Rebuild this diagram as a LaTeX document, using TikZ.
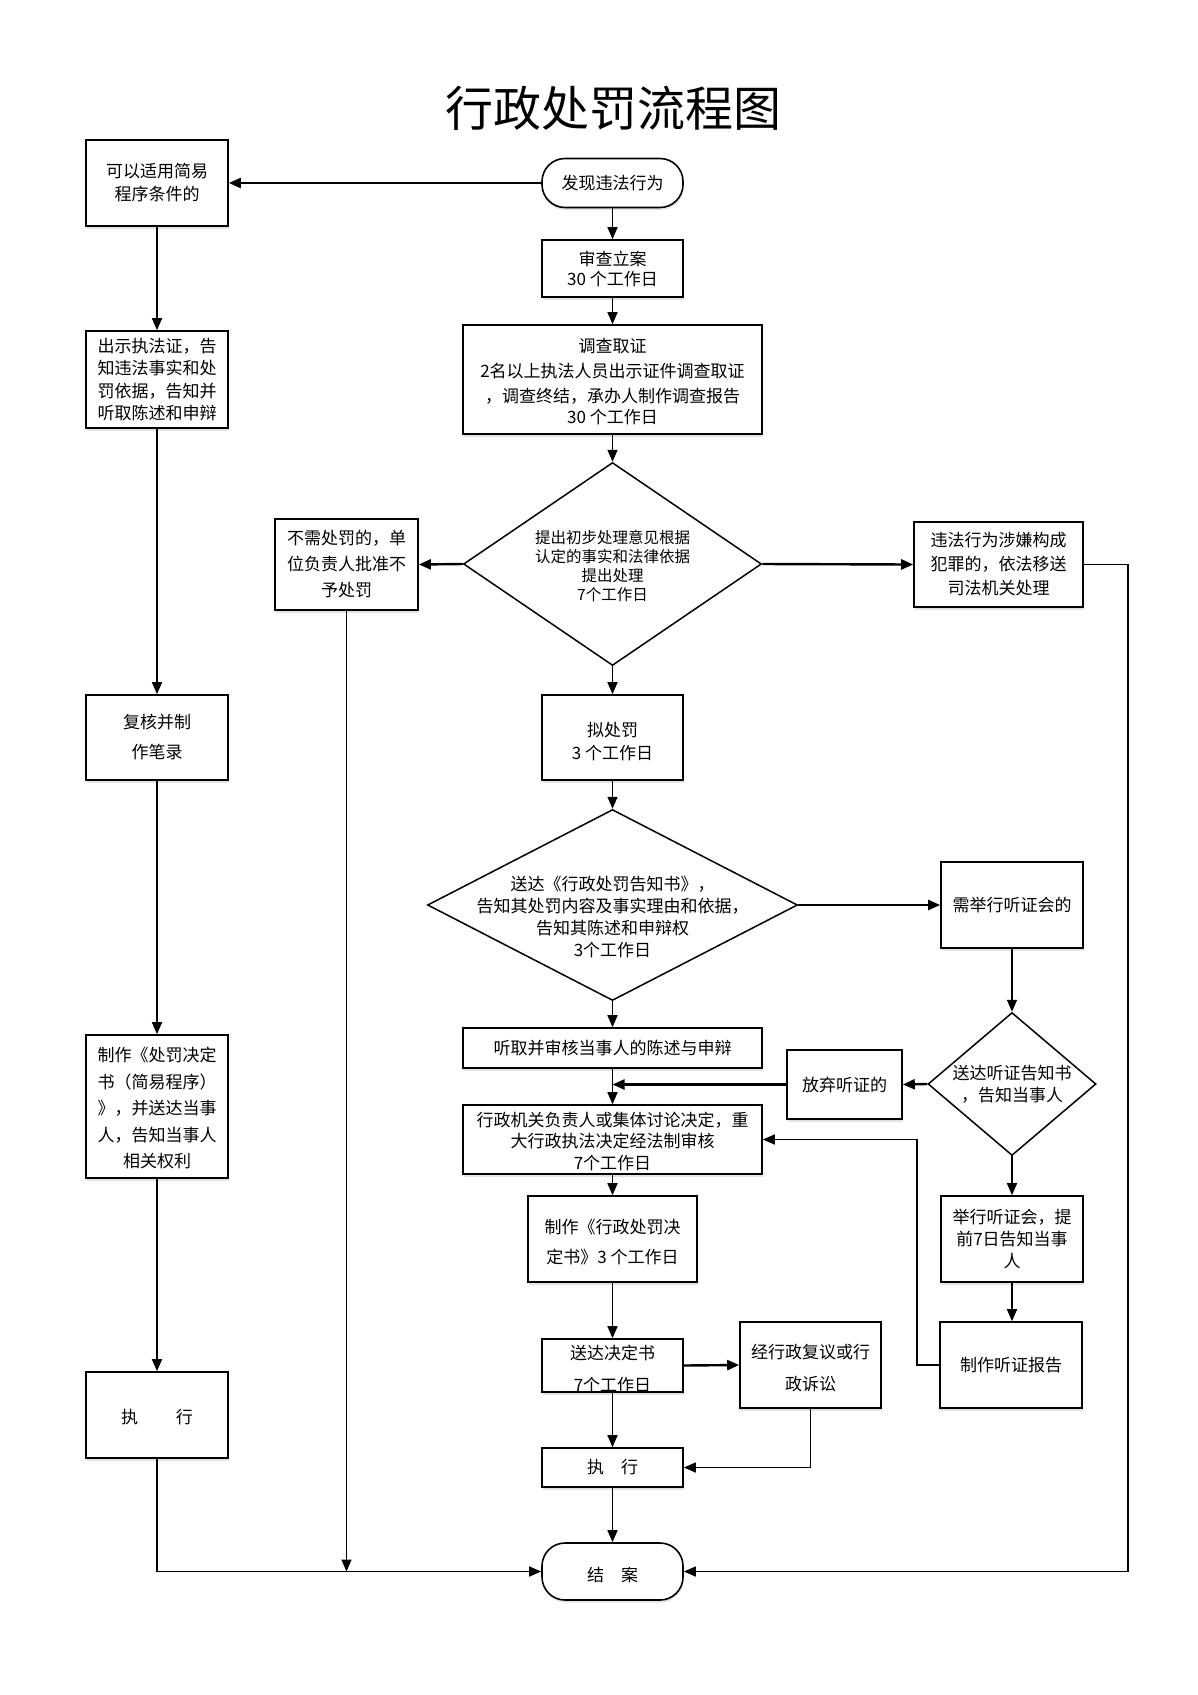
\documentclass[tikz,border=0pt]{standalone}
\usepackage{fontspec}
\newfontfamily\cjk{Noto Sans CJK SC}
\usetikzlibrary{arrows.meta,shapes.geometric,shadows}
\tikzset{
  txt/.style={font=\cjk\fontsize{17}{#1}\selectfont, align=center, inner sep=0pt},
  txt/.default=23,
  box/.style={draw, line width=1.6pt, fill=white, inner sep=0pt, align=center,
    drop shadow={shadow xshift=0.6pt, shadow yshift=-2.5pt, opacity=0.22, fill=gray}},
  term/.style={box, rounded corners=23pt},
  dia/.style={draw, diamond, line width=1.5pt, fill=white, inner sep=0pt, aspect=1},
  conn/.style={line width=1.5pt, -{Triangle[length=12pt,width=10pt]}},
  thickc/.style={line width=2.4pt},
}
\begin{document}
\begin{tikzpicture}[x=1pt,y=-1pt]
\useasboundingbox (0,0) rectangle (1198,1695);
\fill[white] (0,0) rectangle (1198,1695);

% title
\node[font=\cjk\fontsize{48}{56}\selectfont, inner sep=0pt] (title) at (613,108) {行政处罚流程图};

% left column
\node[box, minimum width=142pt, minimum height=86pt] (L1) at (157,183) {};
\node[txt] (L1t) at (L1.center) {可以适用简易\\程序条件的};
\node[box, minimum width=142pt, minimum height=97pt] (L2) at (157,379.5) {};
\node[txt=22.5] (L2t) at (L2.center) {出示执法证，告\\知违法事实和处\\罚依据，告知并\\听取陈述和申辩};
\node[box, minimum width=142pt, minimum height=85pt] (L3) at (157,737.5) {};
\node[txt=30] (L3t) at (L3.center) {复核并制\\作笔录};
\node[box, minimum width=142pt, minimum height=143pt] (L4) at (157,1106.5) {};
\node[txt=26.5] (L4t) at (157,1108.5) {制作《处罚决定\\书（简易程序）\\》，并送达当事\\人，告知当事人\\相关权利};
\node[box, minimum width=142pt, minimum height=86pt] (L5) at (157,1415) {};
\node[txt] (L5t) at (157,1417) {执\hspace{38pt}行};

% center column
\node[term, minimum width=141pt, minimum height=49pt] (S) at (612.5,183) {};
\node[txt] (St) at (S.center) {发现违法行为};
\node[box, minimum width=141pt, minimum height=57pt] (C1) at (612.5,268.5) {};
\node[txt=20] (C1t) at (612.5,269) {审查立案\\30 个工作日};
\node[box, minimum width=299pt, minimum height=109pt] (C2) at (612.5,379.5) {};
\node[txt=25] (C2t) at (612.5,382) {调查取证\\2名以上执法人员出示证件调查取证\\，调查终结，承办人制作调查报告\\[-4pt]30 个工作日};

\node[dia, minimum width=298pt, minimum height=203pt] (D1) at (612.5,564) {};
\node[font=\cjk\fontsize{15.5}{19}\selectfont, align=center, inner sep=0pt] (D1t) at (612.5,566) {提出初步处理意见根据\\认定的事实和法律依据\\提出处理\\7个工作日};

\node[box, minimum width=143pt, minimum height=91pt] (N) at (346.5,564.5) {};
\node[txt=26] (Nt) at (N.center) {不需处罚的，单\\位负责人批准不\\予处罚};
\node[box, minimum width=169pt, minimum height=85pt] (R) at (998.5,564.5) {};
\node[txt=24] (Rt) at (R.center) {违法行为涉嫌构成\\犯罪的，依法移送\\司法机关处理};

\node[box, minimum width=141pt, minimum height=85pt] (C3) at (612.5,737.5) {};
\node[txt] (C3t) at (612.5,742) {拟处罚\\3 个工作日};

\node[dia, minimum width=370pt, minimum height=191pt] (D2) at (612.5,905) {};
\node[txt=22] (D2t) at (612.5,917) {送达《行政处罚告知书》，\\告知其处罚内容及事实理由和依据，\\告知其陈述和申辩权\\3个工作日};

\node[box, minimum width=142pt, minimum height=86pt] (H1) at (1012,905) {};
\node[txt] (H1t) at (H1.center) {需举行听证会的};

\node[box, minimum width=299pt, minimum height=40pt] (C4) at (612.5,1048) {};
\node[txt] (C4t) at (C4.center) {听取并审核当事人的陈述与申辩};

\node[dia, minimum width=168pt, minimum height=143pt] (D3) at (1012,1084) {};
\node[txt=22] (D3t) at (1012,1084) {送达听证告知书\\，告知当事人};

\node[box, minimum width=115pt, minimum height=69pt] (G) at (844.5,1084.5) {};
\node[txt] (Gt) at (G.center) {放弃听证的};

\node[box, minimum width=299pt, minimum height=69pt] (C5) at (612.5,1139.5) {};
\node[txt=21.5] (C5t) at (612.5,1141) {行政机关负责人或集体讨论决定，重\\大行政执法决定经法制审核\\7个工作日};

\node[box, minimum width=169pt, minimum height=86pt] (C6) at (612.5,1239) {};
\node[txt=30] (C6t) at (612.5,1242) {制作《行政处罚决\\定书》3 个工作日};

\node[box, minimum width=142pt, minimum height=86pt] (H2) at (1012,1239) {};
\node[txt=22] (H2t) at (H2.center) {举行听证会，提\\前7日告知当事\\人};

\node[box, minimum width=141pt, minimum height=53pt] (C7) at (612.5,1365.5) {};
\node[txt=32] (C7t) at (612.5,1369) {送达决定书\\7个工作日};

\node[box, minimum width=141pt, minimum height=86pt] (F) at (810.5,1365) {};
\node[txt=32] (Ft) at (810.5,1368) {经行政复议或行\\政诉讼};

\node[box, minimum width=142pt, minimum height=86pt] (H3) at (1011,1365) {};
\node[txt] (H3t) at (H3.center) {制作听证报告};

\node[box, minimum width=141pt, minimum height=39pt] (C8) at (612.5,1467.5) {};
\node[txt] (C8t) at (C8.center) {执\hspace{17pt}行};

\node[term, minimum width=141pt, minimum height=57pt] (E) at (612.5,1571.5) {};
\node[txt] (Et) at (612.5,1575) {结\hspace{17pt}案};

% connectors: left column
\draw[conn,thickc] (S.west) -- (L1.east);
\draw[conn] (L1.south) -- (L2.north);
\draw[conn] (L2.south) -- (L3.north);
\draw[conn] (L3.south) -- (L4.north);
\draw[conn] (L4.south) -- (L5.north);
\draw[conn] (L5.south) |- (E.west);

% center column
\draw[conn] (S.south) -- (C1.north);
\draw[conn] (C1.south) -- (C2.north);
\draw[conn] (C2.south) -- (D1.north);
\draw[conn,thickc] (D1.west) -- (N.east);
\draw[conn,thickc] (D1.east) -- (R.west);
\draw[conn] (N.south) -- (N.south |- E.west);
\draw[conn] (R.east) -- ++(44,0) |- (E.east);
\draw[conn] (D1.south) -- (C3.north);
\draw[conn] (C3.south) -- (D2.north);
\draw[conn,thickc] (D2.east) -- (H1.west);
\draw[conn] (D2.south) -- (C4.north);
\draw[conn] (C4.south) -- (C5.north);
\coordinate (GJ) at (C4.south |- G.west);
\draw[conn,thickc] (G.west) -- (GJ);
\draw[conn] (H1.south) -- (D3.north);
\draw[conn,thickc] (D3.west) -- (G.east);
\draw[conn] (D3.south) -- (H2.north);
\draw[conn] (H2.south) -- (H2.south |- H3.north);
\draw[conn] (H3.west) -- ++(-22,0) |- (C5.east);
\draw[conn] (C5.south) -- (C6.north);
\draw[conn] (C6.south) -- (C7.north);
\draw[conn,thickc] (C7.east) -- (F.west);
\draw[conn] (F.south) |- (C8.east);
\draw[conn] (C7.south) -- (C8.north);
\draw[conn] (C8.south) -- (E.north);
\end{tikzpicture}
\end{document}
